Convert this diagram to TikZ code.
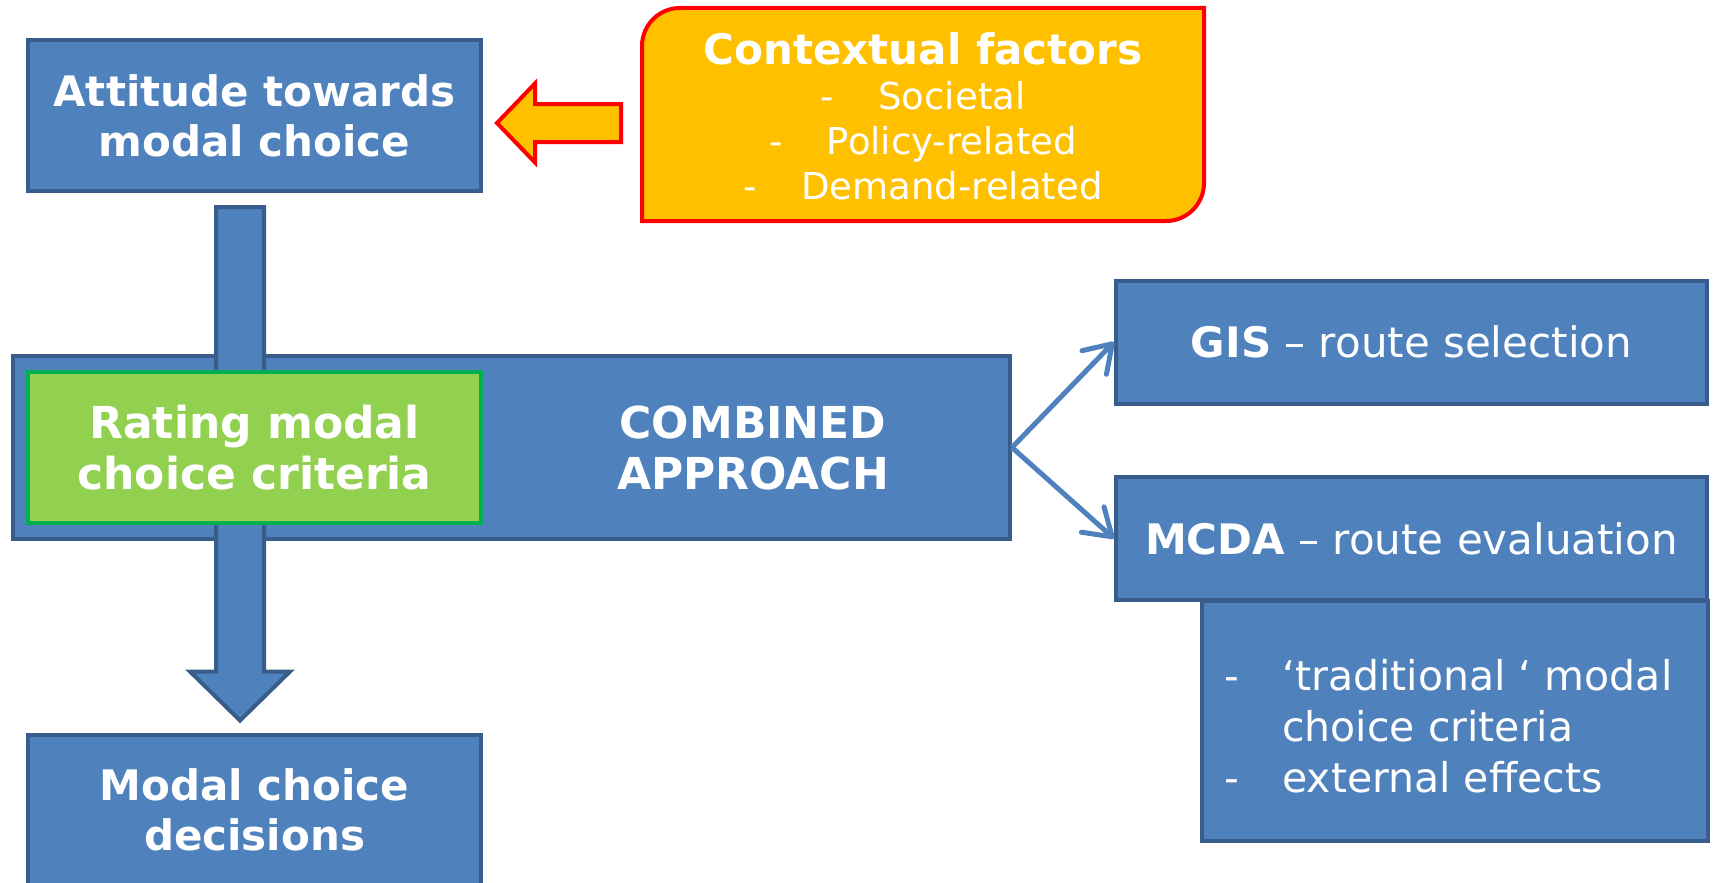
\documentclass[tikz,border=0pt]{standalone}
\usepackage{fontspec}
\setmainfont{DejaVu Sans}
\usetikzlibrary{arrows.meta,calc}
\definecolor{boxblue}{HTML}{4F81BD}
\definecolor{boxedge}{HTML}{385D8A}
\definecolor{critgreen}{HTML}{92D050}
\definecolor{critedge}{HTML}{00B050}
\definecolor{ctxfill}{HTML}{FFC000}
\definecolor{ctxedge}{HTML}{FF0000}
\tikzset{
  bluebox/.style={draw=boxedge,fill=boxblue,line width=4pt,text=white,align=center,inner sep=0pt},
  critbox/.style={draw=critedge,fill=critgreen,line width=4pt,text=white,align=center,inner sep=0pt},
  headtext/.style={font=\bfseries\fontsize{42}{50}\selectfont},
  widetext/.style={font=\bfseries\fontsize{44}{51}\selectfont},
  plaintext/.style={font=\fontsize{42}{50}\selectfont},
  link/.style={boxblue,line width=5pt,-{Straight Barb[length=26pt,width=34pt,round]}},
  bigarrow/.style={draw=boxedge,fill=boxblue,line width=4pt},
  ctxarrow/.style={draw=ctxedge,fill=ctxfill,line width=4pt},
}

\begin{document}
\begin{tikzpicture}[x=1pt,y=-1pt]
\useasboundingbox (0,0) rectangle (1713,883);

% ---------------------------------------------------------------- context
\filldraw[ctxarrow] (1204,8) -- (680,8) .. controls (659,8) and (642,25) .. (642,46)
  -- (642,221) -- (1166,221) .. controls (1187,221) and (1204,204) .. (1204,183) -- cycle;
\node[text=white,align=center,font=\fontsize{37}{45}\selectfont] (ctx) at (923,116)
  {{\bfseries\fontsize{42}{45}\selectfont Contextual factors}\\\makebox[58pt][l]{-}Societal\\\makebox[58pt][l]{-}Policy-related\\\makebox[58pt][l]{-}Demand-related};

% ---------------------------------------------------------------- left column
\node[bluebox,headtext,minimum width=453pt,minimum height=151pt] (att) at (254.5,115.5)
  {Attitude towards\\modal choice};
\node[bluebox,headtext,minimum width=453pt,minimum height=151pt] (dec) at (254.5,810)
  {Modal choice\\decisions};
\draw[ctxarrow] ($(att.east)+(14,7.5)$) -- ++(38,-39.5) -- ++(0,20.5) -- ++(86,0)
  -- ++(0,38) -- ++(-86,0) -- ++(0,20.5) -- cycle;

% ---------------------------------------------------------------- combined approach
\node[bluebox,minimum width=997pt,minimum height=183pt] (comb) at (511.5,447.5) {};
\draw[bigarrow] ($(att.south)+(-38.5,14)$) -- ++(48,0) -- ($(dec.north)+(9.5,-61)$)
  -- ++(26,0) -- ($(dec.north)+(-14.5,-12)$) -- ++(-50,-49) -- ++(26,0) -- cycle;
\node[critbox,widetext,minimum width=453pt,minimum height=151pt] (crit) at (254.5,447.5)
  {Rating modal\\choice criteria};
\node[text=white,align=center,widetext] (combtext) at (753,448) {COMBINED\\APPROACH};

% ---------------------------------------------------------------- right column
\node[bluebox,plaintext,minimum width=591pt,minimum height=123pt] (gis) at (1411.5,342)
  {\textbf{GIS} – route selection};
\node[bluebox,minimum width=506pt,minimum height=240pt] (crits) at (1455,721) {};
\node[text=white,align=left,inner sep=0pt,anchor=west,font=\fontsize{41}{51}\selectfont] (critlist) at (1224,726)
  {\makebox[58pt][l]{-}‘traditional ‘ modal\\\hspace*{58pt}choice criteria\\\makebox[58pt][l]{-}external effects};
\node[bluebox,plaintext,minimum width=591pt,minimum height=123pt] (mcda) at (1411.5,538.5)
  {\textbf{MCDA} – route evaluation};

\draw[link] (comb.east) -- (gis.west);
\draw[link] (comb.east) -- (mcda.west);

\end{tikzpicture}
\end{document}
